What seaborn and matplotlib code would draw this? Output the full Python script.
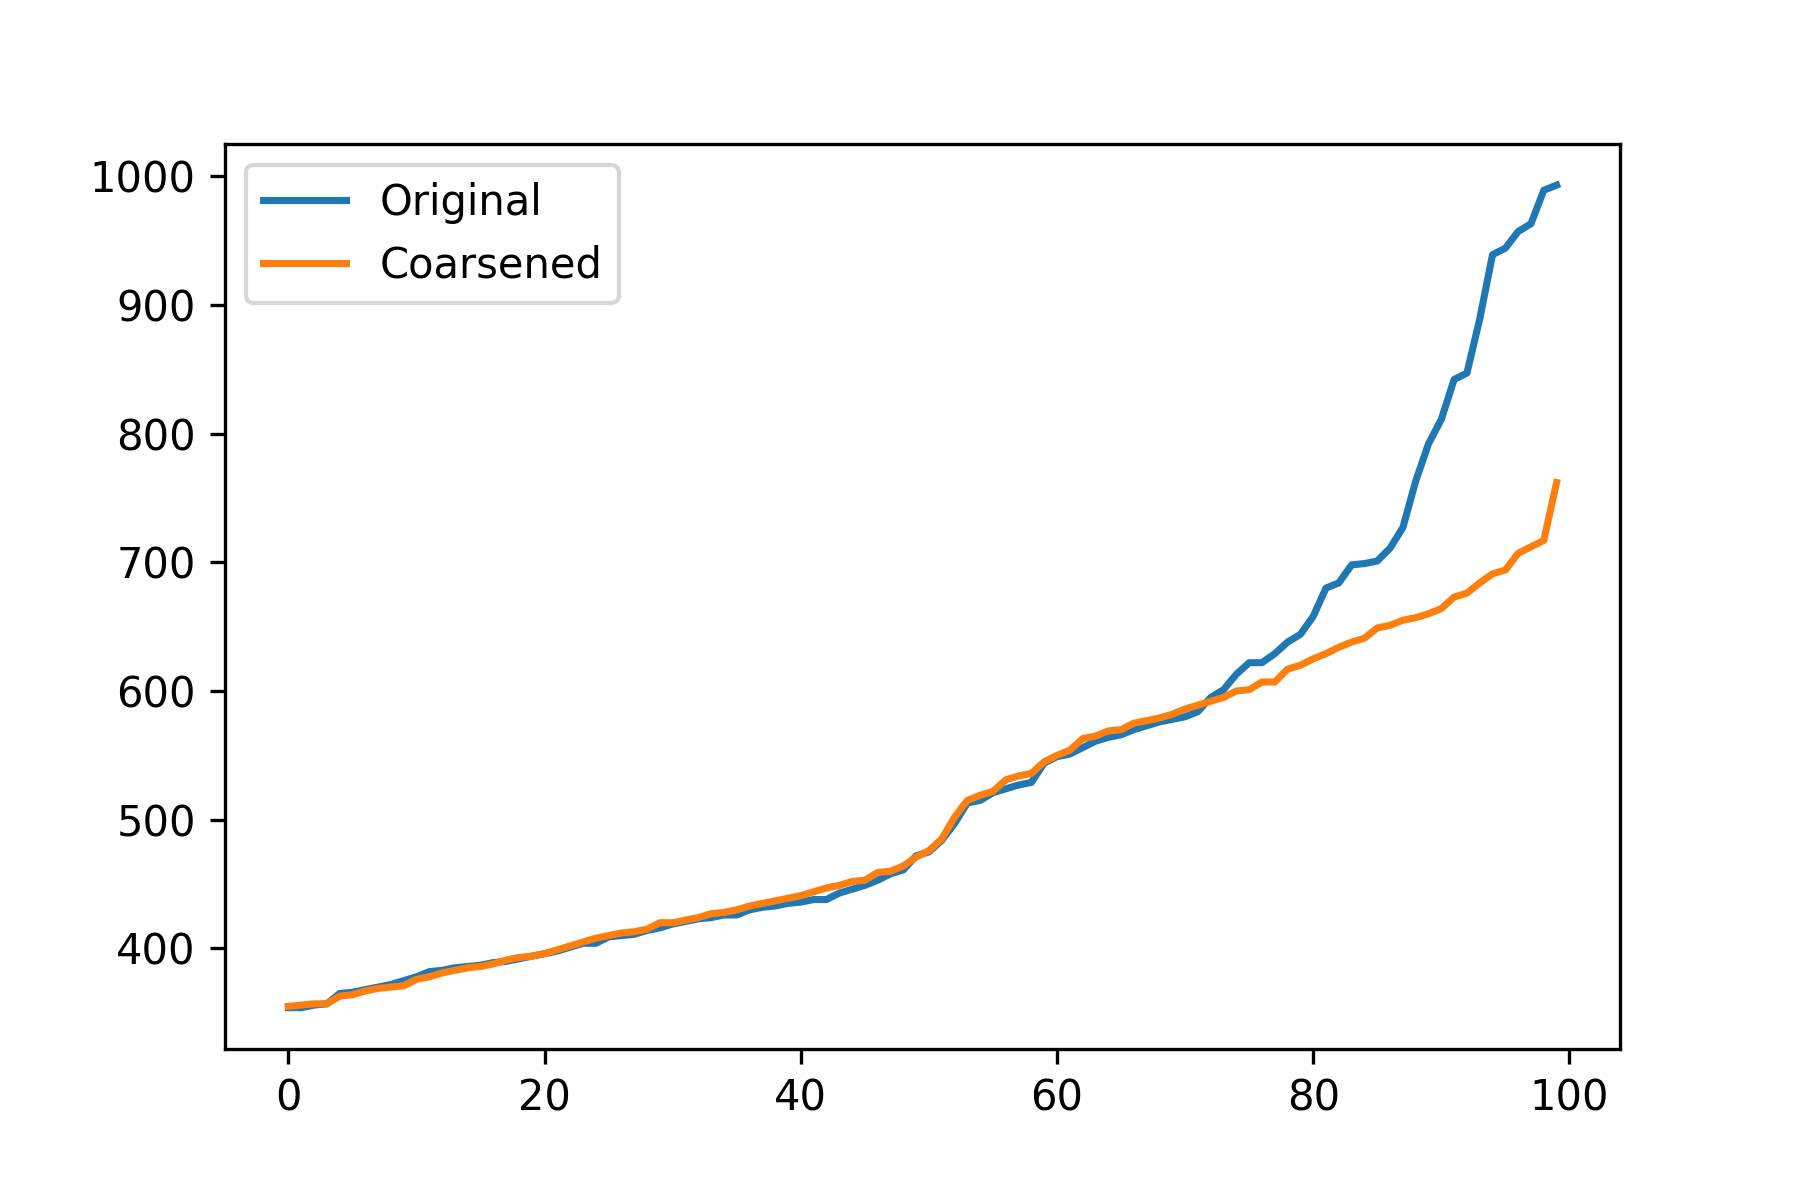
import matplotlib
matplotlib.use("Agg")
import matplotlib.pyplot as plt
import seaborn as sns
import numpy as np

index = list(range(100))
original = [354, 354, 356, 357, 365, 366, 368, 370, 372, 375,
            378, 382, 383, 385, 386, 387, 389, 390, 392, 394,
            396, 398, 401, 404, 404, 409, 410, 411, 414, 416,
            419, 421, 423, 424, 426, 426, 430, 432, 433, 435,
            436, 438, 438, 443, 446, 449, 453, 458, 461, 472,
            475, 484, 497, 513, 515, 521, 524, 527, 529, 544,
            549, 551, 556, 561, 564, 566, 570, 573, 576, 578,
            580, 584, 595, 601, 613, 622, 622, 629, 638, 644,
            658, 680, 684, 698, 699, 701, 711, 727, 763, 792,
            811, 842, 847, 889, 939, 944, 957, 963, 989, 993]
coarsened = [355, 356, 357, 357, 363, 364, 367, 369, 370, 371,
             376, 378, 381, 383, 385, 386, 388, 391, 393, 394,
             396, 399, 402, 405, 408, 410, 412, 413, 415, 420,
             420, 422, 424, 427, 428, 430, 433, 435, 437, 439,
             441, 444, 447, 449, 452, 453, 459, 460, 464, 471,
             476, 485, 502, 515, 519, 522, 531, 534, 536, 545,
             550, 554, 563, 565, 569, 570, 575, 577, 579, 582,
             586, 589, 592, 595, 600, 601, 607, 607, 617, 620,
             625, 629, 634, 638, 641, 649, 651, 655, 657, 660,
             664, 673, 676, 684, 691, 694, 707, 712, 717, 762]

fig, ax = plt.subplots(figsize=(6, 4), dpi=300)
fig.subplots_adjust(left=0.125, right=0.9, top=0.88, bottom=0.126)
palette = sns.color_palette("tab10")
sns.lineplot(x=index, y=original, ax=ax, color=palette[0], label="Original", linewidth=1.7)
sns.lineplot(x=index, y=coarsened, ax=ax, color=palette[1], label="Coarsened", linewidth=1.7)
ax.legend(loc="upper left")
fig.savefig("out.png", dpi=300)
